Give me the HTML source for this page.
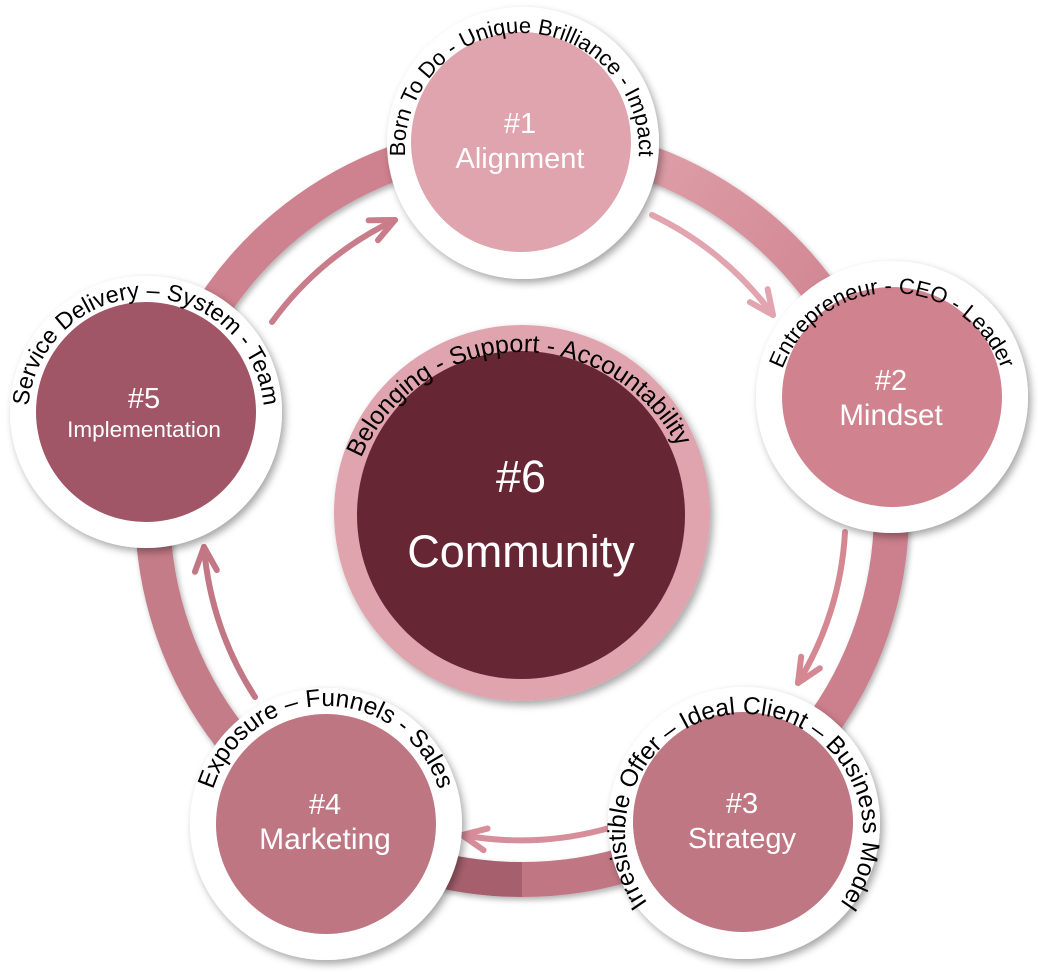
<!DOCTYPE html>
<html>
<head>
<meta charset="utf-8">
<style>
  html,body{margin:0;padding:0;background:#fff;}
  svg{display:block;}
  .lab{font-family:"Liberation Sans",Arial,sans-serif;fill:#000;}
  .in{font-family:"Liberation Sans",Arial,sans-serif;fill:#fff;text-anchor:middle;}
</style>
</head>
<body>
<svg width="1038" height="972" viewBox="0 0 1038 972" xmlns="http://www.w3.org/2000/svg">
  <defs>
    <filter id="sh" x="-20%" y="-20%" width="140%" height="140%">
      <feDropShadow dx="3" dy="4" stdDeviation="4" flood-color="#000" flood-opacity="0.35"/>
    </filter>
    <filter id="shr" x="-10%" y="-10%" width="120%" height="120%">
      <feDropShadow dx="2" dy="3" stdDeviation="3" flood-color="#000" flood-opacity="0.3"/>
    </filter>
    <linearGradient id="gA" gradientUnits="userSpaceOnUse" x1="600" y1="160" x2="840" y2="330">
      <stop offset="0" stop-color="#dfa1ab"/>
      <stop offset="1" stop-color="#d08591"/>
    </linearGradient>
    <marker id="m1" markerUnits="userSpaceOnUse" markerWidth="60" markerHeight="60" refX="0" refY="0" viewBox="-30 -30 60 60" orient="auto">
      <path d="M -24 -11 L 0 0 L -24 11" fill="none" stroke="#e2a5b0" stroke-width="6" stroke-linecap="round" stroke-linejoin="round"/>
    </marker>
    <marker id="m2" markerUnits="userSpaceOnUse" markerWidth="60" markerHeight="60" refX="0" refY="0" viewBox="-30 -30 60 60" orient="auto">
      <path d="M -24 -11 L 0 0 L -24 11" fill="none" stroke="#d58892" stroke-width="6" stroke-linecap="round" stroke-linejoin="round"/>
    </marker>
    <marker id="m3" markerUnits="userSpaceOnUse" markerWidth="60" markerHeight="60" refX="0" refY="0" viewBox="-30 -30 60 60" orient="auto">
      <path d="M -24 -11 L 0 0 L -24 11" fill="none" stroke="#d88d9a" stroke-width="6" stroke-linecap="round" stroke-linejoin="round"/>
    </marker>
    <marker id="m4" markerUnits="userSpaceOnUse" markerWidth="60" markerHeight="60" refX="0" refY="0" viewBox="-30 -30 60 60" orient="auto">
      <path d="M -24 -11 L 0 0 L -24 11" fill="none" stroke="#c27785" stroke-width="6" stroke-linecap="round" stroke-linejoin="round"/>
    </marker>
    <marker id="m5" markerUnits="userSpaceOnUse" markerWidth="60" markerHeight="60" refX="0" refY="0" viewBox="-30 -30 60 60" orient="auto">
      <path d="M -24 -11 L 0 0 L -24 11" fill="none" stroke="#c97d8b" stroke-width="6" stroke-linecap="round" stroke-linejoin="round"/>
    </marker>
    <path id="p1" d="M 519.96 266.98 A 117 117 0 1 1 524.04 266.98"/>
    <path id="p2" d="M 889.96 526.98 A 117 117 0 1 1 894.04 526.98"/>
    <path id="p3" d="M 741.92 951.98 A 119 119 0 1 1 746.08 951.98"/>
    <path id="p4" d="M 323.94 941.98 A 118 118 0 1 1 328.06 941.98"/>
    <path id="p5" d="M 143.94 533.98 A 118 118 0 1 1 148.06 533.98"/>
    <path id="p6" d="M 518.95 701.97 A 175 175 0 1 1 525.05 701.97"/>
  </defs>

  <!-- Outer ring -->
  <g filter="url(#shr)" fill="none" stroke-width="35">
    <path d="M 522 140.5 A 369.5 369.5 0 0 1 875.4 402.0" stroke="url(#gA)"/>
    <path d="M 875.4 402.0 A 369.5 369.5 0 0 1 736.1 811.2" stroke="#cc7f8c"/>
    <path d="M 736.1 811.2 A 369.5 369.5 0 0 1 522 879.5" stroke="#c07683"/>
    <path d="M 522 879.5 A 369.5 369.5 0 0 1 326.2 823.3" stroke="#a6606d"/>
    <path d="M 326.2 823.3 A 369.5 369.5 0 0 1 164.4 416.9" stroke="#c47b88"/>
    <path d="M 164.4 416.9 A 369.5 369.5 0 0 1 522 140.5" stroke="#ce818e"/>
  </g>

  <!-- Arrows -->
  <g fill="none" stroke-width="6" stroke-linecap="round">
    <path d="M 652 215 A 322 322 0 0 1 773 315" stroke="#e2a5b0" marker-end="url(#m1)"/>
    <path d="M 845 532 A 322 322 0 0 1 798 683" stroke="#d58892" marker-end="url(#m2)"/>
    <path d="M 620 824.7 A 322 322 0 0 1 462 835" stroke="#d88d9a" marker-end="url(#m3)"/>
    <path d="M 255 697 A 322 322 0 0 1 204 547" stroke="#c27785" marker-end="url(#m4)"/>
    <path d="M 272 322 A 322 322 0 0 1 395 220" stroke="#c97d8b" marker-end="url(#m5)"/>
  </g>

  <!-- Center #6 -->
  <circle cx="522" cy="513" r="188" fill="#e0a4ae" filter="url(#sh)"/>
  <circle cx="521" cy="515" r="164" fill="#662634"/>

  <!-- Nodes -->
  <g filter="url(#sh)" fill="#fff">
    <circle cx="523" cy="143" r="136"/>
    <circle cx="892" cy="397" r="136"/>
    <circle cx="744" cy="823" r="136"/>
    <circle cx="326" cy="824" r="136"/>
    <circle cx="146" cy="412" r="136"/>
  </g>
  <circle cx="521" cy="142" r="110" fill="#e0a4ae"/>
  <circle cx="892" cy="397" r="110" fill="#d0838f"/>
  <circle cx="743" cy="822" r="110" fill="#bf7784"/>
  <circle cx="326" cy="824" r="110" fill="#bf7683"/>
  <circle cx="146" cy="412" r="110" fill="#a05666"/>

  <!-- Inner labels -->
  <text class="in" x="520" y="133" font-size="29">#1</text>
  <text class="in" x="520" y="168" font-size="29">Alignment</text>
  <text class="in" x="891" y="390" font-size="29">#2</text>
  <text class="in" x="891" y="425" font-size="29.5">Mindset</text>
  <text class="in" x="742" y="813" font-size="29">#3</text>
  <text class="in" x="742" y="848" font-size="29">Strategy</text>
  <text class="in" x="325" y="814" font-size="29">#4</text>
  <text class="in" x="325" y="849" font-size="30">Marketing</text>
  <text class="in" x="144" y="408" font-size="29">#5</text>
  <text class="in" x="144" y="437" font-size="22.5">Implementation</text>
  <text class="in" x="521" y="492" font-size="45">#6</text>
  <text class="in" x="521" y="567" font-size="45">Community</text>

  <!-- Curved labels -->
  <text class="lab" font-size="22"><textPath href="#p1" startOffset="50%" text-anchor="middle">Born To Do - Unique Brilliance - Impact</textPath></text>
  <text class="lab" font-size="22"><textPath href="#p2" startOffset="50%" text-anchor="middle">Entrepreneur - CEO - Leader</textPath></text>
  <text class="lab" font-size="24.5"><textPath href="#p3" startOffset="50%" text-anchor="middle">Irresistible Offer – Ideal Client – Business Model</textPath></text>
  <text class="lab" font-size="24.5"><textPath href="#p4" startOffset="50%" text-anchor="middle">Exposure – Funnels - Sales</textPath></text>
  <text class="lab" font-size="23.4"><textPath href="#p5" startOffset="50%" text-anchor="middle">Service Delivery – System - Team</textPath></text>
  <text class="lab" font-size="25" transform="rotate(-2 522 527)"><textPath href="#p6" startOffset="50%" text-anchor="middle">Belonging - Support - Accountability</textPath></text>
</svg>
</body>
</html>
